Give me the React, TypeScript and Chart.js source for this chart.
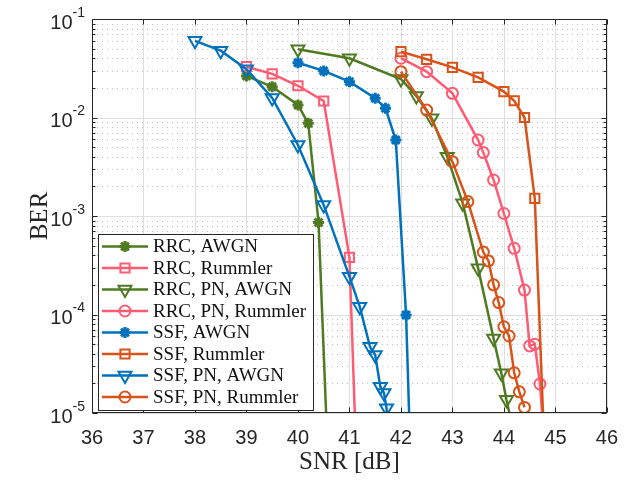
import React, { useEffect, useRef } from 'react';
import { Chart, registerables } from 'chart.js';

Chart.register(...registerables);

// ---- data (SNR in dB, BER) ----
const rrcAwgnSnr = [39, 39.5, 40, 40.2, 40.4, 40.6];
const rrcAwgnBer = [0.0264, 0.0205, 0.0134, 0.00873, 8.6e-4, 2e-6];

const rrcRummlerSnr = [39, 39.5, 40, 40.5, 41, 41.2];
const rrcRummlerBer = [0.0328, 0.0277, 0.021, 0.0147, 3.8e-4, 3.5e-7];

const rrcPnAwgnSnr = [40, 41, 42, 42.3, 42.6, 42.9, 43.2, 43.5, 43.8, 43.95, 44.05, 44.2];
const rrcPnAwgnBer = [0.0492, 0.0399, 0.0246, 0.0165, 0.0098, 0.004, 0.00135, 2.94e-4, 5.7e-5, 2.53e-5, 1.36e-5, 6e-6];

const rrcPnRummlerSnr = [42, 42.5, 43, 43.5, 43.6, 43.8, 44, 44.2, 44.4, 44.5, 44.6, 44.7, 44.8];
const rrcPnRummlerBer = [0.04, 0.0292, 0.0176, 0.0059, 0.0044, 0.00232, 0.00106, 4.7e-4, 1.77e-4, 4.8e-5, 5.0e-5, 1.97e-5, 4e-6];

const ssfAwgnSnr = [40, 40.5, 41, 41.5, 41.7, 41.9, 42.1, 42.2];
const ssfAwgnBer = [0.036, 0.0297, 0.0231, 0.0157, 0.0124, 0.00591, 9.9e-5, 2e-6];

const ssfRummlerSnr = [42, 42.5, 43, 43.5, 44, 44.2, 44.4, 44.6, 44.8];
const ssfRummlerBer = [0.0466, 0.039, 0.0323, 0.0256, 0.0183, 0.0148, 0.01, 0.00151, 2.7e-6];

const ssfPnAwgnSnr = [38, 38.5, 39, 39.5, 40, 40.5, 41, 41.2, 41.4, 41.5, 41.6, 41.67, 41.72, 41.78];
const ssfPnAwgnBer = [0.06, 0.0477, 0.0309, 0.0158, 0.00526, 0.00129, 2.42e-4, 1.2e-4, 4.7e-5, 3.88e-5, 1.85e-5, 1.6e-5, 1.12e-5, 4e-6];

const ssfPnRummlerSnr = [42, 42.5, 43, 43.3, 43.6, 43.7, 43.8, 43.9, 44, 44.1, 44.2, 44.3, 44.4];
const ssfPnRummlerBer = [0.0292, 0.0119, 0.00356, 0.0014, 4.3e-4, 3.5e-4, 2.0e-4, 1.32e-4, 7.5e-5, 6.05e-5, 2.56e-5, 1.64e-5, 1.14e-5];

const seriesLabels = [
  'RRC, AWGN',
  'RRC, Rummler',
  'RRC, PN, AWGN',
  'RRC, PN, Rummler',
  'SSF, AWGN',
  'SSF, Rummler',
  'SSF, PN, AWGN',
  'SSF, PN, Rummler',
];

const xTicks = [36, 37, 38, 39, 40, 41, 42, 43, 44, 45, 46];
const yDecadeExponents = [-5, -4, -3, -2, -1];

// ---- styles ----
const GREEN = '#4E7A22';
const PINK = '#FF5B72';
const BLUE = '#0072BD';
const ORANGE = '#D95319';
const AXIS = '#262626';
const GRID_MAJOR = '#DEDEDE';
const GRID_MINOR = '#BEBEBE';
const SANS = '"Liberation Sans", Arial, sans-serif';
const SERIF = '"Liberation Serif", "Times New Roman", serif';

const styleTable = [
  { color: GREEN, style: 'star', r: 5.5, rot: 0, bw: 3 },
  { color: PINK, style: 'rect', r: 6.5, rot: 0, bw: 2 },
  { color: GREEN, style: 'triangle', r: 7.5, rot: 180, bw: 2 },
  { color: PINK, style: 'circle', r: 5.5, rot: 0, bw: 2 },
  { color: BLUE, style: 'star', r: 5.5, rot: 0, bw: 3 },
  { color: ORANGE, style: 'rect', r: 6.5, rot: 0, bw: 2 },
  { color: BLUE, style: 'triangle', r: 7.5, rot: 180, bw: 2 },
  { color: ORANGE, style: 'circle', r: 5.5, rot: 0, bw: 2 },
];

const seriesData: [number[], number[]][] = [
  [rrcAwgnSnr, rrcAwgnBer],
  [rrcRummlerSnr, rrcRummlerBer],
  [rrcPnAwgnSnr, rrcPnAwgnBer],
  [rrcPnRummlerSnr, rrcPnRummlerBer],
  [ssfAwgnSnr, ssfAwgnBer],
  [ssfRummlerSnr, ssfRummlerBer],
  [ssfPnAwgnSnr, ssfPnAwgnBer],
  [ssfPnRummlerSnr, ssfPnRummlerBer],
];

function drawMarker(ctx: CanvasRenderingContext2D, style: string, x: number, y: number, r: number, rot: number) {
  ctx.beginPath();
  if (style === 'circle') {
    ctx.arc(x, y, r, 0, Math.PI * 2);
    ctx.closePath();
  } else if (style === 'rect') {
    const s = Math.SQRT1_2 * r;
    ctx.rect(x - s, y - s, 2 * s, 2 * s);
  } else if (style === 'triangle') {
    let a = (rot * Math.PI) / 180;
    ctx.moveTo(x + Math.sin(a) * r, y - Math.cos(a) * r);
    a += (2 * Math.PI) / 3;
    ctx.lineTo(x + Math.sin(a) * r, y - Math.cos(a) * r);
    a += (2 * Math.PI) / 3;
    ctx.lineTo(x + Math.sin(a) * r, y - Math.cos(a) * r);
    ctx.closePath();
  } else if (style === 'star') {
    for (let k = 0; k < 4; k++) {
      const a = (k * Math.PI) / 4;
      ctx.moveTo(x - Math.cos(a) * r, y - Math.sin(a) * r);
      ctx.lineTo(x + Math.cos(a) * r, y + Math.sin(a) * r);
    }
  }
  ctx.stroke();
}

const framePlugin = {
  id: 'matlabFrame',
  beforeDatasetsDraw(chart: any) {
    const { ctx, chartArea: a, scales } = chart;
    const xs = scales.x;
    const ys = scales.y;
    ctx.save();
    ctx.lineWidth = 1;
    ctx.strokeStyle = GRID_MINOR;
    ctx.setLineDash([1, 4]);
    for (const e of yDecadeExponents) {
      if (e === -1) continue;
      for (let m = 2; m <= 9; m++) {
        const py = Math.round(ys.getPixelForValue(m * Math.pow(10, e))) + 0.5;
        ctx.beginPath();
        ctx.moveTo(a.left, py);
        ctx.lineTo(a.right, py);
        ctx.stroke();
      }
    }
    ctx.setLineDash([]);
    ctx.strokeStyle = GRID_MAJOR;
    for (const e of yDecadeExponents) {
      const py = Math.round(ys.getPixelForValue(Math.pow(10, e))) + 0.5;
      ctx.beginPath();
      ctx.moveTo(a.left, py);
      ctx.lineTo(a.right, py);
      ctx.stroke();
    }
    for (const t of xTicks) {
      const px = Math.round(xs.getPixelForValue(t)) + 0.5;
      ctx.beginPath();
      ctx.moveTo(px, a.top);
      ctx.lineTo(px, a.bottom);
      ctx.stroke();
    }
    ctx.restore();
  },
  afterDatasetsDraw(chart: any) {
    const { ctx, chartArea: a, scales } = chart;
    const xs = scales.x;
    const ys = scales.y;
    ctx.save();
    ctx.strokeStyle = AXIS;
    ctx.lineWidth = 1;
    const L = Math.round(a.left) + 0.5;
    const R = Math.round(a.right) - 0.5;
    const T = Math.round(a.top) + 0.5;
    const B = Math.round(a.bottom) - 0.5;
    ctx.strokeRect(L, T, R - L, B - T);
    for (const t of xTicks) {
      const px = Math.round(xs.getPixelForValue(t)) + 0.5;
      ctx.beginPath();
      ctx.moveTo(px, B);
      ctx.lineTo(px, B - 5);
      ctx.moveTo(px, T);
      ctx.lineTo(px, T + 5);
      ctx.stroke();
    }
    for (const e of yDecadeExponents) {
      for (let m = 1; m <= 9; m++) {
        if (e === -1 && m > 1) continue;
        const len = m === 1 ? 5 : 3;
        const py = Math.round(ys.getPixelForValue(m * Math.pow(10, e))) + 0.5;
        ctx.beginPath();
        ctx.moveTo(L, py);
        ctx.lineTo(L + len, py);
        ctx.moveTo(R, py);
        ctx.lineTo(R - len, py);
        ctx.stroke();
      }
    }
    // y tick labels 10^e
    ctx.fillStyle = AXIS;
    ctx.textBaseline = 'middle';
    ctx.textAlign = 'left';
    const right = a.left - 7;
    for (const e of yDecadeExponents) {
      const py = ys.getPixelForValue(Math.pow(10, e));
      const sup = String(e);
      ctx.font = `14px ${SANS}`;
      const supW = ctx.measureText(sup).width;
      ctx.font = `20px ${SANS}`;
      const baseW = ctx.measureText('10').width;
      ctx.fillText('10', right - supW - baseW, py + 4);
      ctx.font = `14px ${SANS}`;
      ctx.fillText(sup, right - supW, py - 6);
    }
    // legend
    const lx = 98.5, ly = 234.5, lw = 215, lh = 176;
    ctx.fillStyle = '#FFFFFF';
    ctx.fillRect(lx, ly, lw, lh);
    ctx.strokeStyle = AXIS;
    ctx.lineWidth = 1;
    ctx.strokeRect(lx, ly, lw, lh);
    chart.data.datasets.forEach((ds: any, i: number) => {
      const st = styleTable[i];
      const cy = 246.5 + i * 21.5;
      ctx.strokeStyle = st.color;
      ctx.lineWidth = 2.5;
      ctx.beginPath();
      ctx.moveTo(102, cy);
      ctx.lineTo(148, cy);
      ctx.stroke();
      ctx.lineWidth = st.bw;
      drawMarker(ctx, st.style, 125, cy, st.r, st.rot);
      ctx.fillStyle = '#111111';
      ctx.font = `19px ${SERIF}`;
      ctx.textBaseline = 'middle';
      ctx.textAlign = 'left';
      ctx.fillText(ds.label, 153, cy + 1);
    });
    ctx.restore();
  },
};

export default function App() {
  const ref = useRef<HTMLCanvasElement>(null);
  useEffect(() => {
    document.body.style.margin = '0';
    const datasets = seriesData.map(([xs, ys], i) => {
      const st = styleTable[i];
      return {
        label: seriesLabels[i],
        data: xs.map((x, k) => ({ x, y: ys[k] })),
        borderColor: st.color,
        backgroundColor: st.color,
        borderWidth: 2.5,
        pointStyle: st.style,
        pointRadius: st.r,
        pointRotation: st.rot,
        pointBorderWidth: st.bw,
        pointBorderColor: st.color,
        pointBackgroundColor: 'rgba(0,0,0,0)',
        tension: 0,
        fill: false,
        order: 7 - i,
      };
    });
    const chart = new Chart(ref.current as HTMLCanvasElement, {
      type: 'line',
      data: { datasets } as any,
      options: {
        responsive: false,
        animation: false,
        devicePixelRatio: 1,
        layout: { padding: { left: 0, right: 20, top: 19, bottom: 0 } },
        plugins: { legend: { display: false }, tooltip: { enabled: false } },
        scales: {
          x: {
            type: 'linear',
            min: 36,
            max: 46,
            afterBuildTicks: (s: any) => {
              s.ticks = xTicks.map((v) => ({ value: v }));
            },
            ticks: {
              font: { family: SANS, size: 20 },
              color: AXIS,
              padding: 13,
              maxRotation: 0,
              autoSkip: false,
            },
            grid: { display: false, drawTicks: false },
            border: { display: false },
            title: {
              display: true,
              text: 'SNR [dB]',
              font: { family: SERIF, size: 25 },
              color: AXIS,
              padding: { top: 0, bottom: 3 },
            },
            afterFit: (s: any) => {
              s.height = 67;
            },
          },
          y: {
            type: 'logarithmic',
            min: 1e-5,
            max: 1e-1,
            ticks: { display: false },
            grid: { display: false, drawTicks: false },
            border: { display: false },
            title: {
              display: true,
              text: 'BER',
              font: { family: SERIF, size: 25 },
              color: AXIS,
              padding: { top: 25, bottom: 0 },
            },
            afterFit: (s: any) => {
              s.width = 92;
            },
          },
        },
      } as any,
      plugins: [framePlugin],
    });
    return () => chart.destroy();
  }, []);
  return (
    <div style={{ width: 631, height: 480 }}>
      <canvas ref={ref} width={631} height={480} style={{ display: 'block' }} />
    </div>
  );
}
